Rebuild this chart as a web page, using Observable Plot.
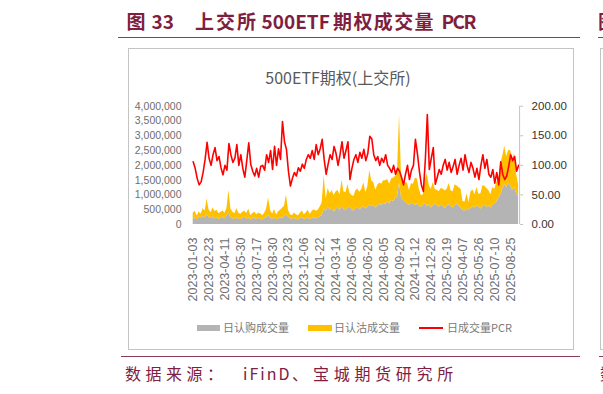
<!DOCTYPE html>
<html><head><meta charset="utf-8">
<script src="https://cdn.jsdelivr.net/npm/d3@7"></script>
<script src="https://cdn.jsdelivr.net/npm/@observablehq/plot@0.6"></script>
<style>
html,body{margin:0;padding:0;background:#fff;}
#wrap{position:relative;width:603px;height:394px;overflow:hidden;font-family:"Noto Sans CJK SC","Liberation Sans",sans-serif;}
.abs{position:absolute;white-space:nowrap;}
.t{color:#7F1F3F;font-weight:bold;font-size:19px;line-height:19px;top:11px;}
.cap{color:#80203F;font-size:16px;line-height:16px;top:365px;}
.lg{color:#7a7a7a;font-size:11px;line-height:11px;top:322px;}
#wrap svg{position:absolute;left:0;top:0;}
</style></head><body><div id="wrap">
<div class="abs t" style="left:126.5px">图</div>
<div class="abs t" style="left:151.5px">33</div>
<div class="abs t" style="left:195px;letter-spacing:2px">上交所</div>
<div class="abs t" style="left:261.5px">500ETF</div>
<div class="abs t" style="left:333px;letter-spacing:1.4px">期权成交量</div>
<div class="abs t" style="left:441.5px;letter-spacing:-1.6px">PCR</div>
<div class="abs t" style="left:598px">图</div>
<div class="abs" style="left:118px;top:36.5px;width:462px;height:0;border-top:1.5px solid #8E3A59"></div>
<div class="abs" style="left:598px;top:36.5px;width:10px;height:0;border-top:1.5px solid #8E3A59"></div>
<div class="abs" style="left:128px;top:48px;width:444px;height:300px;border:1px solid #C4C4C4"></div>
<div class="abs" style="left:600px;top:48px;width:20px;height:300px;border:1px solid #C4C4C4"></div>
<div class="abs" style="left:121px;top:356px;width:459px;height:0;border-top:1.5px solid #8E3A59"></div>
<div class="abs" style="left:599px;top:356px;width:10px;height:0;border-top:1.5px solid #8E3A59"></div>
<div class="abs" style="left:263px;top:69px;width:150px;text-align:center;font-size:16px;line-height:16px;color:#595959">500ETF期权(上交所)</div>
<div class="abs" style="left:197px;top:325px;width:23px;height:6px;background:#B4B4B4"></div>
<div class="abs lg" style="left:223px">日认购成交量</div>
<div class="abs" style="left:308px;top:325px;width:24px;height:6px;background:#FFC000"></div>
<div class="abs lg" style="left:334px">日认沽成交量</div>
<div class="abs" style="left:419px;top:327px;width:24px;height:1.5px;background:#FF0000"></div>
<div class="abs lg" style="left:447px">日成交量PCR</div>
<div class="abs cap" style="left:125px;letter-spacing:4.5px">数据来源：</div>
<div class="abs cap" style="left:243px;letter-spacing:2px">iFinD</div>
<div class="abs cap" style="left:292px">、</div>
<div class="abs cap" style="left:313px;letter-spacing:4.7px">宝城期货研究所</div>
<div class="abs cap" style="left:600px">数</div>
</div>
<script>
const xLabels = ["2023-01-03","2023-02-23","2023-04-11","2023-05-30","2023-07-17","2023-08-30","2023-10-23","2023-12-06","2024-01-22","2024-03-14","2024-05-06","2024-06-20","2024-08-05","2024-09-20","2024-11-12","2024-12-26","2025-02-19","2025-04-07","2025-05-26","2025-07-10","2025-08-25"];
const samplesPerLabel = 8;
const seriesNames = ["日认购成交量","日认沽成交量","日成交量PCR"];
const callVol = [
180000,230000,160000,250000,200000,280000,220000,330000,240000,200000,
260000,190000,230000,170000,210000,250000,190000,280000,390000,240000,
200000,170000,230000,190000,160000,210000,250000,180000,220000,150000,
190000,230000,170000,210000,180000,150000,200000,240000,300000,210000,
180000,220000,160000,190000,230000,200000,260000,330000,250000,200000,
170000,210000,180000,150000,200000,230000,170000,190000,220000,160000,
200000,240000,190000,220000,260000,300000,520000,450000,600000,480000,
550000,420000,500000,580000,460000,620000,520000,480000,560000,600000,
500000,450000,530000,580000,490000,560000,620000,520000,580000,680000,
600000,650000,560000,620000,700000,640000,720000,680000,760000,700000,
820000,780000,880000,950000,1400000,900000,820000,760000,700000,650000,
720000,680000,640000,700000,620000,580000,650000,720000,600000,680000,
560000,620000,700000,640000,580000,660000,600000,540000,620000,680000,
600000,560000,640000,700000,620000,560000,480000,460000,520000,480000,
540000,600000,560000,640000,580000,520000,600000,660000,580000,620000,
560000,640000,700000,760000,900000,1000000,1200000,1350000,1250000,1400000,
1300000,1150000,1250000,1050000,950000];
const putVol = [
200000,220000,130000,170000,150000,250000,240000,520000,260000,200000,
300000,250000,250000,190000,200000,210000,190000,260000,760000,280000,
210000,190000,310000,190000,190000,200000,200000,190000,300000,150000,
170000,190000,160000,170000,180000,150000,180000,280000,600000,260000,
170000,290000,160000,240000,250000,350000,360000,670000,230000,130000,
130000,180000,150000,140000,180000,230000,160000,210000,260000,180000,
250000,260000,260000,260000,330000,430000,1140000,400000,620000,560000,
600000,560000,600000,580000,540000,880000,580000,600000,790000,460000,
480000,500000,620000,610000,600000,630000,790000,560000,700000,1150000,
870000,770000,600000,710000,700000,720000,760000,800000,760000,660000,
720000,780000,750000,900000,2300000,720000,550000,650000,700000,500000,
660000,680000,920000,840000,560000,390000,360000,790000,1120000,630000,
630000,800000,480000,510000,540000,560000,600000,590000,570000,710000,
530000,550000,700000,600000,620000,630000,300000,300000,520000,260000,
570000,570000,450000,610000,440000,520000,710000,630000,640000,530000,
450000,600000,490000,670000,600000,1060000,1100000,1300000,1050000,1100000,
1200000,1050000,1150000,650000,400000];
const pcr = [
106,95,78,67,72,88,110,139,112,100,
118,130,108,115,96,84,100,92,137,118,
105,112,135,100,118,95,80,108,138,102,
90,82,95,80,98,100,92,118,105,125,
93,132,100,128,110,174,140,127,90,65,
78,88,82,96,90,102,95,110,118,112,
125,110,135,118,128,144,110,85,102,118,
110,132,120,100,118,140,112,125,140,76,
95,110,118,105,122,112,127,108,120,149,
145,118,108,115,100,112,105,118,100,95,
88,100,85,95,90,80,67,85,100,76,
92,100,144,120,90,67,56,110,186,93,
112,130,68,80,93,85,100,110,92,105,
88,98,110,85,100,112,92,118,100,88,
105,95,80,95,76,100,118,95,110,85,
80,93,70,88,67,106,85,76,82,98,
118,108,115,90,100];
const volTicks = [0,500000,1000000,1500000,2000000,2500000,3000000,3500000,4000000];
const pcrTicks = [0,50,100,150,200];
const pcrToVol = 20000; // right axis 200.00 aligns with left 4,000,000

const n = callVol.length;
const areaRows = callVol.flatMap((v, i) => [
  {i, s: seriesNames[0], v},
  {i, s: seriesNames[1], v: putVol[i]}
]);
const lineRows = pcr.map((p, i) => ({i, p}));
const xTicks = xLabels.map((_, k) => k * samplesPerLabel);

const chart = Plot.plot({
  width: 603, height: 394,
  marginLeft: 192.7, marginRight: 84.9, marginTop: 105.7, marginBottom: 170,
  style: {background: "transparent", fontFamily: "Liberation Sans, sans-serif", overflow: "visible"},
  x: {domain: [0, n - 1], label: null},
  y: {domain: [0, 4000000], label: null},
  color: {domain: seriesNames.slice(0, 2), range: ["#B4B4B4", "#FFC000"]},
  marks: [
    Plot.areaY(areaRows, {x: "i", y: "v", fill: "s", order: seriesNames.slice(0, 2), curve: "linear"}),
    Plot.lineY(lineRows, {x: "i", y: d => d.p * pcrToVol, stroke: "#FF0000", strokeWidth: 1.6}),
    Plot.ruleX([n - 1], {y1: 0, y2: 4000000, stroke: "#C4C4C4", dx: 1}),
    Plot.axisY(volTicks, {anchor: "left", label: null, tickSize: 0, tickPadding: 11.7, tickFormat: d3.format(","), fontSize: 10.5, fill: "#6e6e6e"}),
    Plot.axisY(pcrTicks.map(v => v * pcrToVol), {anchor: "right", label: null, tickSize: 3, tickPadding: 9, dx: 1, stroke: "#C4C4C4", fill: "#333333", fontSize: 11.5, tickFormat: d => (d / pcrToVol).toFixed(2)}),
    Plot.axisX(xTicks, {anchor: "bottom", label: null, tickSize: 0, tickPadding: 13, tickRotate: -90, fontSize: 12.5, fill: "#6e6e6e", tickFormat: d => xLabels[Math.round(d / samplesPerLabel)]})
  ]
});
document.getElementById("wrap").prepend(chart);
</script>
</body></html>
